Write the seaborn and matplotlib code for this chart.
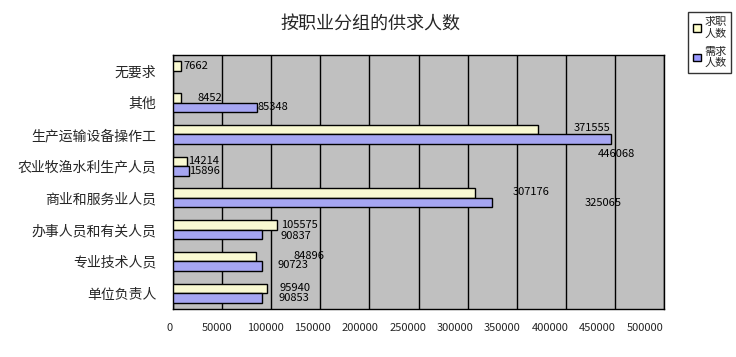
import numpy as np
import pandas as pd
import matplotlib
matplotlib.use("Agg")
import matplotlib.pyplot as plt
import matplotlib.transforms as mtrans
from matplotlib.patches import Patch
import seaborn as sns

# 按职业分组的供求人数
categories = ['无要求', '其他', '生产运输设备操作工', '农业牧渔水利生产人员',
              '商业和服务业人员', '办事人员和有关人员', '专业技术人员', '单位负责人']
job_seekers = [7662, 8452, 371555, 14214, 307176, 105575, 84896, 95940]
demand = [np.nan, 85348, 446068, 15896, 325065, 90837, 90723, 90853]
series = ['求职人数', '需求人数']
legend_labels = ['求职\n人数', '需求\n人数']
colors = ['#FFFFCC', '#9999FF']
x_ticks = list(range(0, 500001, 50000))

# 数值标签的偏移(像素, 向右/向下), 原图里标签位置比较乱
seek_nudge = [(3, 0), (16, 0), (36, -1.5), (1, 0), (38, -1), (4, 0), (37, -1), (12, 0)]
demand_nudge = [(0, 0), (1, 0), (-13, 15), (0, 0), (92, 0), (18, 2), (15, -1), (16, 0)]

df = pd.DataFrame({
    'cat': categories * 2,
    'series': [series[0]] * len(categories) + [series[1]] * len(categories),
    'value': job_seekers + demand,
})

sns.set_style('white')
plt.rcParams['font.family'] = ['Noto Sans CJK SC', 'DejaVu Sans']

fig = plt.figure(figsize=(7.36, 3.57), dpi=100)
ax = fig.add_axes([173 / 736, 48 / 357, 491 / 736, 254 / 357])
ax.set_facecolor('#C0C0C0')

sns.barplot(data=df, x='value', y='cat', hue='series', order=categories,
            hue_order=series, palette=colors, orient='h', width=0.6,
            edgecolor='black', linewidth=1, ax=ax, legend=False, zorder=3)

ax.set_xlim(0, 500000)
ax.set_ylim(7.5, -0.5)
ax.set_xticks(x_ticks)
ax.set_xticklabels([str(t) for t in x_ticks], fontsize=8)
ax.grid(axis='x', color='black', linewidth=1, zorder=1)
ax.set_axisbelow(True)
ax.set_xlabel('')
ax.set_ylabel('')
ax.tick_params(axis='x', length=0, pad=10)
ax.tick_params(axis='y', which='major', length=0, pad=12, labelsize=10)
ax.set_yticks(np.arange(-0.5, 8, 1), minor=True)
ax.tick_params(axis='y', which='minor', direction='in', length=4, color='black')
for s in ax.spines.values():
    s.set_color('black')
    s.set_linewidth(1)

# excel 的刻度标签排得比网格线稍密
for i, lbl in enumerate(ax.get_xticklabels()):
    shift = -(3 + 1.6 * i) / 100
    lbl.set_transform(lbl.get_transform() +
                      mtrans.ScaledTranslation(shift, 0, fig.dpi_scale_trans))

# 数值标签
for j, (vals, nudges) in enumerate([(job_seekers, seek_nudge), (demand, demand_nudge)]):
    off = -0.15 if j == 0 else 0.15
    for i, v in enumerate(vals):
        if np.isnan(v):
            continue
        dx, dy = nudges[i]
        ax.annotate(str(int(v)), xy=(v, i + off), xytext=(dx, -dy),
                    textcoords='offset pixels', ha='left', va='center',
                    fontsize=8, color='black', zorder=5)

fig.text(370 / 736, 1 - 25 / 357, '按职业分组的供求人数', ha='center', va='center',
         fontsize=13)

handles = [Patch(facecolor=c, edgecolor='black', linewidth=1) for c in colors]
leg = fig.legend(handles, legend_labels, loc='upper left',
                 bbox_to_anchor=(688 / 736, 1 - 12 / 357), fontsize=8,
                 frameon=True, fancybox=False, handlelength=0.7, handleheight=0.7,
                 handletextpad=0.3, borderpad=0.45, labelspacing=0.7,
                 borderaxespad=0)
leg.get_frame().set_edgecolor('black')
leg.get_frame().set_linewidth(1)

fig.savefig('out.png', dpi=100, facecolor='white')
